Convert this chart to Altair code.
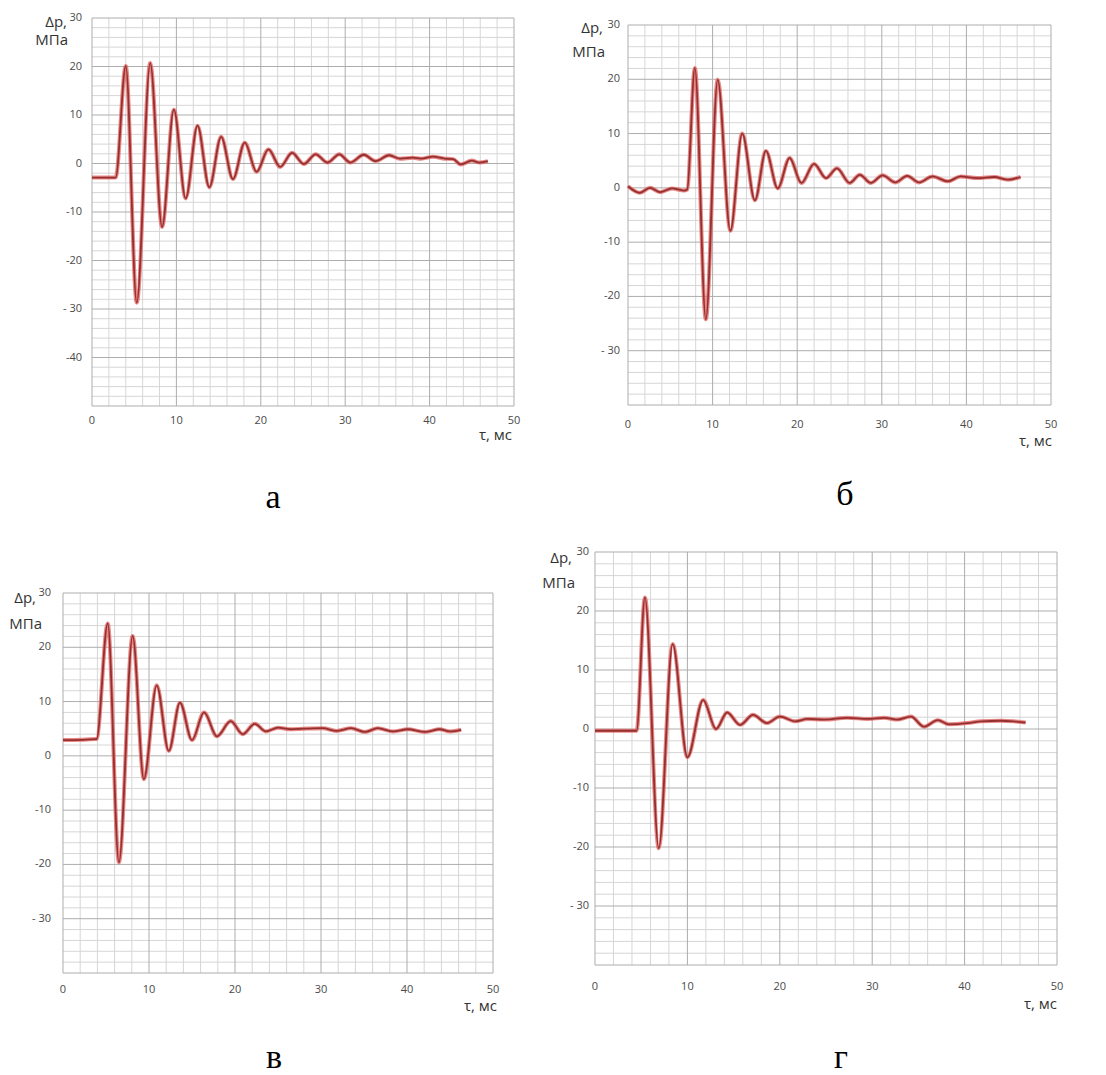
import altair as alt
import pandas as pd

# ---------------- data ----------------
# panel "а"
a_t = [0, 2.8, 4.0, 5.3, 6.9, 8.3, 9.7, 11.1, 12.5, 13.9, 15.3, 16.7, 18.1, 19.5, 20.9,
       22.3, 23.7, 25.1, 26.5, 27.9, 29.3, 30.6, 32.2, 33.6, 35.2, 36.5, 38.0, 39.0, 40.4,
       41.8, 42.8, 43.7, 45.0, 45.9, 46.9]
a_p = [-2.9, -2.9, 20.1, -28.7, 20.7, -13.1, 11.1, -7.2, 7.8, -4.9, 5.5, -3.2, 4.3, -1.7, 2.9,
       -0.7, 2.2, -0.1, 1.9, 0.2, 1.9, 0.2, 1.8, 0.5, 1.7, 1.0, 1.2, 1.0, 1.4,
       1.0, 0.9, -0.2, 0.6, 0.2, 0.5]

# panel "б"
b_t = [0, 1.4, 2.6, 3.8, 5.2, 6.6, 7.0, 7.9, 9.2, 10.6, 12.1, 13.5, 15.0, 16.3, 17.7, 19.1,
       20.5, 22.0, 23.4, 24.7, 26.2, 27.4, 28.7, 30.1, 31.6, 33.0, 34.4, 36.0, 37.8, 39.3,
       41.3, 43.3, 44.9, 46.4]
b_p = [0.3, -0.9, 0.0, -0.8, -0.1, -0.5, -0.3, 22.1, -24.2, 19.9, -7.9, 10.0, -2.3, 6.8, -0.1, 5.5,
       0.9, 4.4, 1.8, 3.6, 0.9, 2.4, 0.9, 2.3, 1.0, 2.2, 1.0, 2.1, 1.2, 2.1,
       1.8, 2.0, 1.5, 2.0]

# panel "в"
c_t = [0, 3.9, 5.2, 6.5, 8.1, 9.4, 10.9, 12.3, 13.6, 15.0, 16.4, 17.9, 19.5, 20.9, 22.3,
       23.6, 25.0, 26.4, 28.0, 30.2, 31.8, 33.5, 35.1, 36.6, 38.4, 40.1, 42.1, 43.8, 45.0, 46.3]
c_p = [2.9, 3.1, 24.4, -19.6, 22.1, -4.3, 13.0, 0.9, 9.8, 2.9, 8.0, 3.6, 6.4, 4.0, 5.9,
       4.5, 5.2, 4.9, 5.0, 5.1, 4.6, 5.1, 4.4, 5.1, 4.5, 4.9, 4.4, 4.9, 4.5, 4.8]

# panel "г"
d_t = [0, 4.5, 5.4, 6.9, 8.4, 10.0, 11.7, 13.1, 14.3, 15.7, 17.1, 18.6, 20.0, 21.7, 23.0,
       24.8, 27.3, 29.5, 31.3, 32.7, 34.2, 35.6, 37.1, 38.3, 40.3, 41.8, 43.9, 45.3, 46.6]
d_p = [-0.3, -0.3, 22.3, -20.2, 14.4, -4.8, 4.9, 0.0, 2.8, 0.7, 2.4, 1.0, 2.1, 1.3, 1.7,
       1.6, 1.9, 1.7, 1.9, 1.6, 2.1, 0.4, 1.5, 0.8, 1.0, 1.3, 1.4, 1.3, 1.1]

# tick labels
x_tick_vals = [0, 10, 20, 30, 40, 50]
x_tick_text = ["0", "10", "20", "30", "40", "50"]
y_tick_vals_a = [30, 20, 10, 0, -10, -20, -30, -40]
y_tick_text_a = ["30", "20", "10", "0", "-10", "-20", "- 30", "-40"]
y_tick_vals = [30, 20, 10, 0, -10, -20, -30]
y_tick_text = ["30", "20", "10", "0", "-10", "-20", "- 30"]

letters = ["а", "б", "в", "г"]
y_title = ["Δp,", "МПа"]
x_title = "τ, мс"

# ---------------- styling ----------------
HALO = "#e26a68"
CORE = "#94302f"
MAJOR = "#adadad"
MINOR = "#d6d6d6"
FONT = "Open Sans"
LABEL_COLOR = "#4a4a4a"
TITLE_COLOR = "#333333"


def panel(t, p, ymin, ymax, ytv, ytt, cw, ch, L, R, T, B,
          ylpad, xldy, ydx1, ydx2, yt1, yt2, xtdx, xtdy, letter, lpos):
    xs = alt.Scale(domain=[0, 50], range=[L, R], nice=False, zero=False)
    ys = alt.Scale(domain=[ymin, ymax], range=[B, T], nice=False, zero=False)
    one = pd.DataFrame({"k": [0]})

    vg = [v for v in range(0, 51, 2)]
    hg = [v for v in range(ymin, ymax + 1, 2)]
    vmin = pd.DataFrame({"g": [v for v in vg if v % 10 != 0], "lo": ymin, "hi": ymax})
    vmaj = pd.DataFrame({"g": [v for v in vg if v % 10 == 0], "lo": ymin, "hi": ymax})
    hmin = pd.DataFrame({"g": [v for v in hg if v % 10 != 0], "lo": 0, "hi": 50})
    hmaj = pd.DataFrame({"g": [v for v in hg if v % 10 == 0], "lo": 0, "hi": 50})

    def vrule(df, color):
        return alt.Chart(df).mark_rule(color=color, strokeWidth=1).encode(
            x=alt.X("g:Q", scale=xs, axis=None),
            y=alt.Y("lo:Q", scale=ys, axis=None), y2="hi:Q")

    def hrule(df, color):
        return alt.Chart(df).mark_rule(color=color, strokeWidth=1).encode(
            y=alt.Y("g:Q", scale=ys, axis=None),
            x=alt.X("lo:Q", scale=xs, axis=None), x2="hi:Q")

    df = pd.DataFrame({"t": t, "p": p})
    base = alt.Chart(df).encode(
        x=alt.X("t:Q", scale=xs, axis=None),
        y=alt.Y("p:Q", scale=ys, axis=None),
    )
    halo = base.mark_line(interpolate="monotone", color=HALO, strokeWidth=4, opacity=0.8)
    core = base.mark_line(interpolate="monotone", color=CORE, strokeWidth=1.8)

    ylab = alt.Chart(pd.DataFrame({"v": ytv, "s": ytt})).mark_text(
        font=FONT, fontSize=11, color=LABEL_COLOR, align="right", baseline="middle").encode(
        y=alt.Y("v:Q", scale=ys, axis=None), x=alt.value(L - ylpad), text="s:N")
    xlab = alt.Chart(pd.DataFrame({"v": x_tick_vals, "s": x_tick_text})).mark_text(
        font=FONT, fontSize=11, color=LABEL_COLOR, align="center", baseline="middle").encode(
        x=alt.X("v:Q", scale=xs, axis=None), y=alt.value(B + xldy), text="s:N")

    def txt(s, x, y, align, size=15, font=FONT, color=TITLE_COLOR):
        return alt.Chart(one).mark_text(
            text=s, font=font, fontSize=size, color=color, align=align,
            baseline="alphabetic").encode(x=alt.value(x), y=alt.value(y))

    yt_a = txt(y_title[0], L - ydx1, T + yt1, "right")
    yt_b = txt(y_title[1], L - ydx2, T + yt2, "right")
    xt = txt(x_title, R + xtdx, B + xtdy, "right")
    lab = txt(letter, lpos[0], lpos[1], "center", size=34, font="Liberation Serif", color="black")

    frame = alt.Chart(one).mark_rule(stroke="white", strokeOpacity=0).encode(
        x=alt.value(0), y=alt.value(0), x2=alt.value(cw), y2=alt.value(ch))

    return alt.layer(
        frame, vrule(vmin, MINOR), hrule(hmin, MINOR), vrule(vmaj, MAJOR), hrule(hmaj, MAJOR),
        halo, core, ylab, xlab, yt_a, yt_b, xt, lab,
    ).properties(width=cw, height=ch)


CW1, CW2, CH1, CH2 = 535, 571, 530, 545

pa = panel(a_t, a_p, -50, 30, y_tick_vals_a, y_tick_text_a, CW1, CH1,
           92, 514, 18, 406, 10, 15, 25, 24, 9, 27, -2, 34, letters[0], (273, 508))
pb = panel(b_t, b_p, -40, 30, y_tick_vals, y_tick_text, CW2, CH1,
           93, 516, 25, 405, 8, 20, 25, 23, 8, 32, 1, 41, letters[1], (310, 505))
pc = panel(c_t, c_p, -40, 30, y_tick_vals, y_tick_text, CW1, CH2,
           63, 493, 63, 443, 12, 17, 27, 21, 10, 36, 4, 38, letters[2], (274, 538))
pd_ = panel(d_t, d_p, -40, 30, y_tick_vals, y_tick_text, CW2, CH2,
            60, 522, 22, 435, 6, 22, 23, 20, 11, 36, 0, 44, letters[3], (306, 538))

chart = alt.vconcat(
    alt.hconcat(pa, pb, spacing=0),
    alt.hconcat(pc, pd_, spacing=0),
    spacing=0,
).properties(padding=0, background="white").configure_view(stroke="transparent", strokeWidth=0)

chart.save("out.html", embed_options={"renderer": "svg", "actions": False})
